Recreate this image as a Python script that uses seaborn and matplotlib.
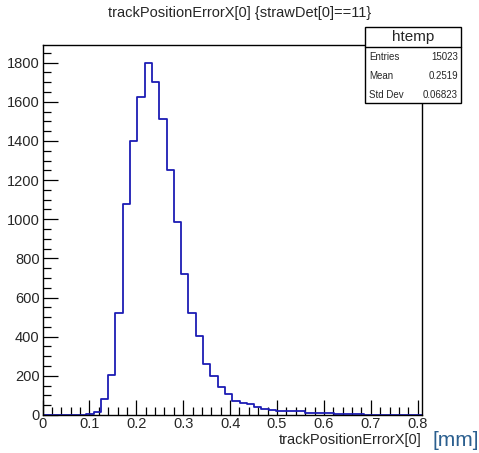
import numpy as np
import pandas as pd
import matplotlib
matplotlib.use('Agg')
import matplotlib.pyplot as plt
import seaborn as sns
from matplotlib.patches import Rectangle
from matplotlib.ticker import MultipleLocator

# Histogram contents: 52 bins of width ~0.01556 starting at 0
bin_width = 0.01556
counts = [0, 0, 0, 0, 0, 0, 5, 17, 82, 205,
          522, 1076, 1399, 1626, 1800, 1703, 1512, 1250, 984, 718,
          520, 403, 262, 201, 145, 109, 72, 60, 55, 43,
          31, 27, 20, 20, 20, 18, 9, 9, 12, 9,
          4, 3, 3, 3, 2, 2, 1, 0, 0, 0, 0, 0]
stats_labels = ['Entries', 'Mean', 'Std Dev']
stats_values = ['15023', '0.2519', '0.06823']

n_bins = len(counts)
x_max = n_bins * bin_width
centers = bin_width * (np.arange(n_bins) + 0.5)
df = pd.DataFrame({'x': centers, 'n': counts})

sns.set_style('white')
plt.rcParams['font.family'] = ['Liberation Sans', 'DejaVu Sans']

W, H = 479, 453
fig = plt.figure(figsize=(W / 100, H / 100), dpi=100)
ax = fig.add_axes([42.5 / W, 1 - 415 / H, (422 - 42.5) / W, (415 - 45) / H])

sns.histplot(data=df, x='x', weights='n', bins=n_bins, binrange=(0, x_max),
             element='step', fill=False, color='#1c1cb4', linewidth=1.3, ax=ax)

ax.set_xlim(0, x_max)
ax.set_ylim(0, 1890)
ax.xaxis.set_major_locator(MultipleLocator(0.1))
ax.xaxis.set_minor_locator(MultipleLocator(0.02))
ax.yaxis.set_major_locator(MultipleLocator(200))
ax.yaxis.set_minor_locator(MultipleLocator(50))
ax.set_xticklabels([f'{v:g}' for v in ax.get_xticks()])
ax.tick_params(which='major', direction='in', length=11, width=0.9, labelsize=10.5,
               color='black', bottom=True, left=True)
ax.tick_params(which='minor', direction='in', length=5.5, width=0.9,
               color='black', bottom=True, left=True)
ax.tick_params(axis='x', pad=1.5)
ax.tick_params(axis='y', pad=2)
for s in ax.spines.values():
    s.set_color('black')
    s.set_linewidth(1.0)
ax.set_xlabel('')
ax.set_ylabel('')

fig.text(240 / W, 1 - 13 / H, 'trackPositionErrorX[0] {strawDet[0]==11}',
         ha='center', va='center', fontsize=10.5)
fig.text(422 / W, 1 - 440 / H, 'trackPositionErrorX[0]',
         ha='right', va='center', fontsize=10.5)
fig.text(433 / W, 1 - 441 / H, '[mm]', ha='left', va='center',
         fontsize=15, color='#2b5f8f')

# stats box
bx0, bx1, by0, by1 = 365, 461, 27, 103
fig.add_artist(Rectangle((bx0 / W, 1 - by1 / H), (bx1 - bx0) / W, (by1 - by0) / H,
                         transform=fig.transFigure, facecolor='white',
                         edgecolor='black', linewidth=1.0, zorder=5))
fig.add_artist(plt.Line2D([bx0 / W, bx1 / W], [1 - 47 / H, 1 - 47 / H],
                          transform=fig.transFigure, color='black', linewidth=1.0, zorder=6))
fig.text((bx0 + bx1) / 2 / W, 1 - 37 / H, 'htemp', ha='center', va='center',
         fontsize=11, zorder=7)
for i, (lab, val) in enumerate(zip(stats_labels, stats_values)):
    yy = 1 - (57 + i * 19) / H
    fig.text(369 / W, yy, lab, ha='left', va='center', fontsize=7, zorder=7)
    fig.text(458 / W, yy, val, ha='right', va='center', fontsize=7, zorder=7)

fig.savefig('out.png', dpi=100)
